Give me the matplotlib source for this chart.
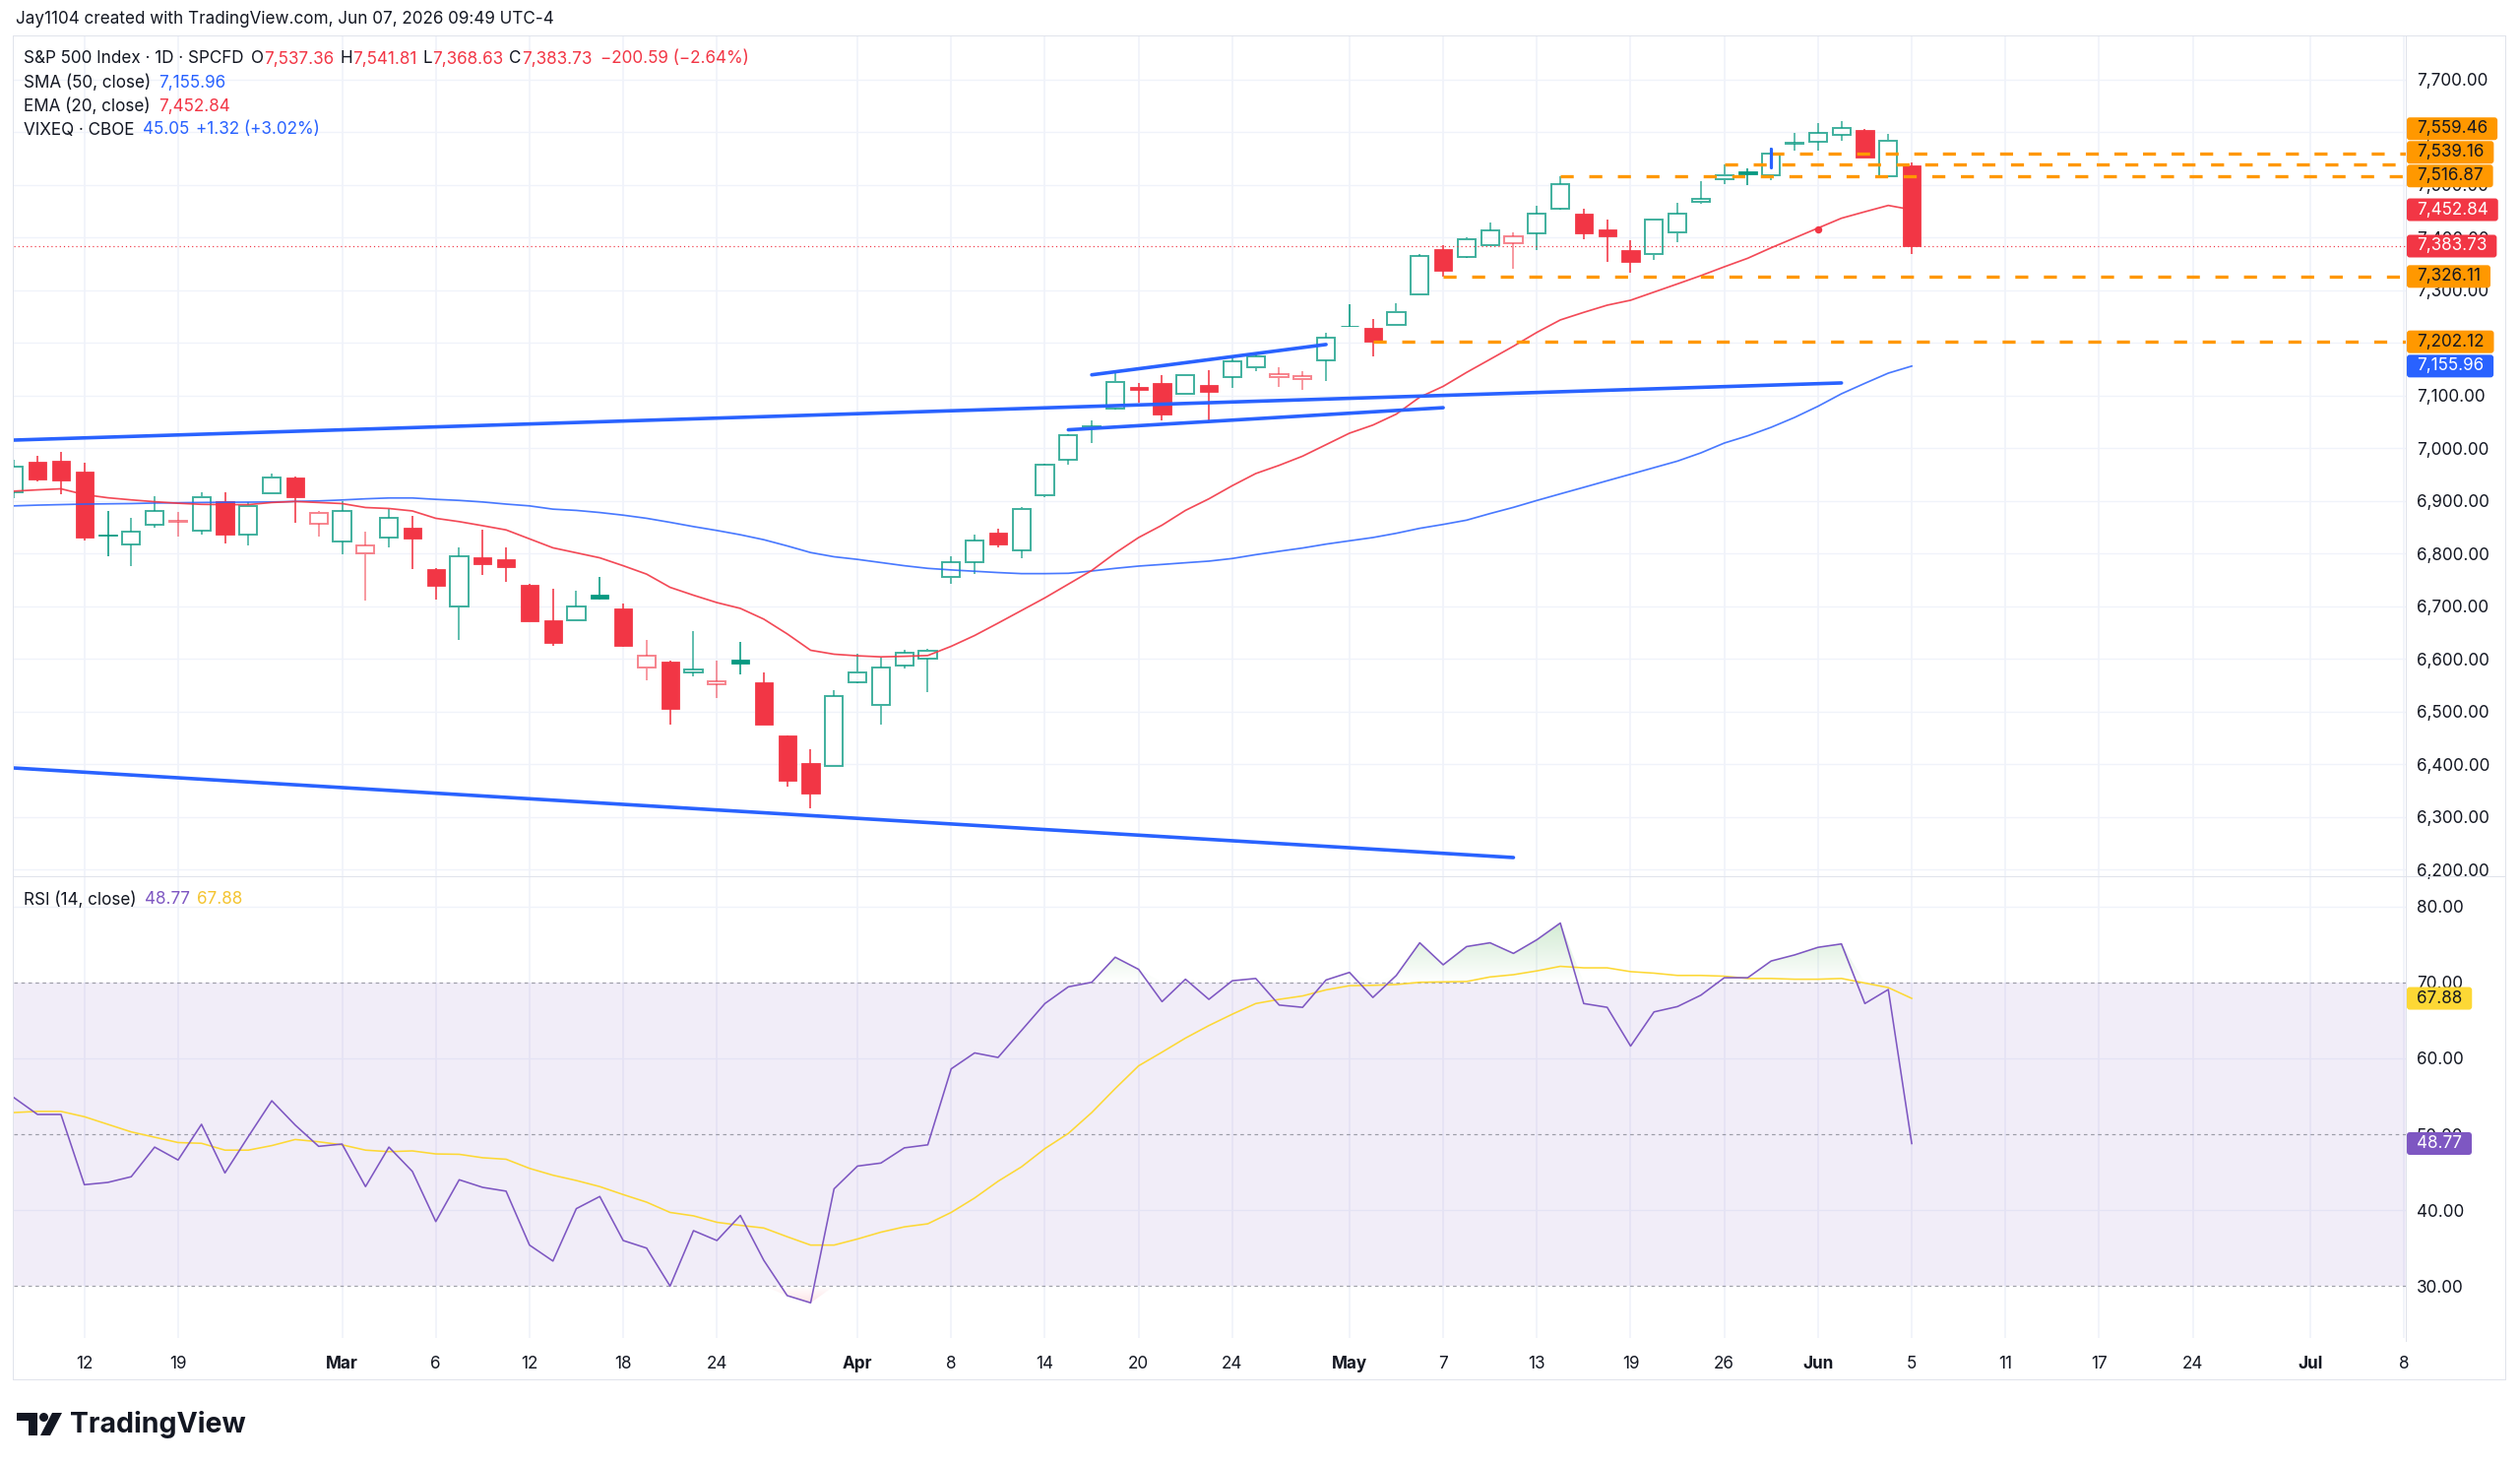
import matplotlib
matplotlib.use('Agg')
import matplotlib.pyplot as plt
from matplotlib.patches import Rectangle, FancyBboxPatch, Polygon, Circle
from matplotlib.lines import Line2D
from matplotlib.path import Path
from matplotlib.transforms import IdentityTransform
from matplotlib.colors import to_rgb
import numpy as np
import pandas as pd

plt.rcParams['font.family'] = ['Inter', 'DejaVu Sans']

# ---------------------------------------------------------------- data
holidays = ['2026-02-16', '2026-04-03', '2026-05-25', '2026-06-19', '2026-07-03']
first_day, last_day = '2026-02-09', '2026-07-10'

opens = [6917, 6975, 6976.6, 6956, 6836, 6818, 6855, 6861, 6844, 6900,
         6837, 6914, 6945, 6857, 6823, 6800, 6831, 6850, 6770, 6699,
         6793, 6790, 6741, 6673, 6674, 6722, 6696, 6583, 6595, 6575,
         6552, 6598, 6555, 6454, 6403, 6396, 6556, 6512, 6588, 6601,
         6755, 6784, 6840, 6806, 6910, 6979, 7038, 7075, 7116, 7123,
         7103, 7120, 7136, 7153, 7134.5, 7130.8, 7167.6, 7233, 7229, 7234,
         7293, 7377.5, 7363, 7385, 7390, 7408.7, 7454.2, 7444.8, 7414.9, 7375.6,
         7368.2, 7409.3, 7467.2, 7510.2, 7525.8, 7518.9, 7578, 7581.9, 7595.6, 7604.9,
         7515.8, 7537.36]
highs = [6978, 6986, 6993, 6973, 6881, 6867, 6909, 6879, 6916, 6917,
         6898, 6952, 6947, 6881, 6900, 6841, 6884, 6871, 6772, 6811,
         6846, 6811, 6742, 6733, 6730, 6755, 6705, 6636, 6596, 6652,
         6596, 6633, 6574, 6455, 6428, 6540, 6610, 6602, 6618, 6619,
         6795, 6837, 6847, 6889, 6971, 7027, 7052, 7147, 7123, 7139,
         7139, 7148, 7171, 7180, 7153, 7146, 7219, 7273, 7245, 7275,
         7368, 7385, 7401, 7428.6, 7410.6, 7460.4, 7516.87, 7454.8, 7433.6, 7395,
         7434.8, 7466, 7506.5, 7539.16, 7532, 7570.6, 7598.7, 7617.4, 7620.5, 7605.5,
         7597.4, 7541.81]
lows = [6906, 6937, 6912, 6825, 6795, 6777, 6849, 6833, 6836, 6820,
        6816, 6914, 6859, 6833, 6798, 6710, 6811, 6771, 6712, 6637,
        6760, 6746, 6671, 6625, 6673, 6712, 6623, 6559, 6475, 6567,
        6526, 6570, 6475, 6358, 6317, 6395, 6554, 6476, 6581, 6537,
        6742, 6762, 6811, 6791, 6907, 6968, 7010, 7074, 7086, 7052,
        7103, 7049, 7114, 7147, 7116, 7110, 7127, 7231, 7175, 7234,
        7293, 7326.11, 7362, 7384, 7340, 7376.3, 7454, 7397.5, 7354.5, 7333.9,
        7357.6, 7391.2, 7463.5, 7502.1, 7500.3, 7508.4, 7564.4, 7564.4, 7584.4, 7551,
        7515, 7368.63]
closes = [6965, 6940.5, 6939, 6831, 6834, 6842, 6880, 6862, 6908, 6837,
          6891, 6945, 6908, 6878, 6881, 6815, 6868, 6829, 6739, 6795,
          6780, 6775, 6672.5, 6631, 6699, 6715.5, 6624.5, 6606, 6506, 6580,
          6557, 6592, 6476, 6369, 6344, 6529, 6575, 6583, 6611, 6616,
          6783, 6824, 6818, 6885.5, 6968, 7024, 7042, 7126.5, 7110, 7065,
          7138, 7108, 7164.5, 7174.4, 7140.8, 7136.4, 7209.3, 7231.5, 7202.12, 7259,
          7365, 7337, 7397.5, 7413, 7401.8, 7444.8, 7500.9, 7408, 7403, 7353.2,
          7433.6, 7444.8, 7472.8, 7518.9, 7519.5, 7559.46, 7580, 7598.7, 7608, 7552,
          7584.32, 7383.73]

ema20 = [6918.6, 6921, 6923, 6912, 6906, 6902, 6898.5, 6895.6, 6893.5, 6893,
         6893, 6897, 6899, 6897, 6895, 6887.5, 6885.6, 6881, 6867, 6860.7,
         6853, 6845, 6828, 6811, 6801.5, 6792, 6777, 6761, 6736, 6721,
         6707, 6696, 6675.6, 6647.6, 6616.5, 6609, 6606, 6604, 6605, 6606.5,
         6624, 6644.5, 6668, 6692, 6716, 6742, 6768, 6801, 6830.5, 6854,
         6882, 6904, 6929, 6952, 6967.6, 6985, 7006.8, 7028.6, 7044, 7064.8,
         7097, 7117.5, 7144, 7168.8, 7193.7, 7220, 7243.6, 7258, 7271.6, 7281,
         7296.5, 7312, 7327.7, 7344.5, 7360.7, 7380.6, 7399.3, 7418, 7436.7, 7449,
         7461, 7452.84]
sma50 = [6890.6, 6892, 6893, 6894, 6894.5, 6895, 6896, 6896.5, 6897, 6897.5,
         6897.7, 6898, 6899, 6900, 6901.8, 6904, 6905.6, 6905.6, 6903, 6901,
         6898, 6894, 6890.6, 6884.4, 6882, 6878, 6873, 6867, 6859.4, 6851.3,
         6843.9, 6835.8, 6826.4, 6814.6, 6802, 6794, 6789, 6783, 6777, 6772,
         6769, 6766.5, 6764, 6762, 6762, 6762.6, 6767, 6772, 6776.3, 6779.4,
         6782.6, 6785.7, 6790.7, 6798, 6804.4, 6810.6, 6818, 6824.3, 6830.5, 6838.6,
         6848, 6855.4, 6863.5, 6876, 6887.8, 6900.9, 6913.4, 6925.8, 6938.3, 6950.7,
         6963.2, 6975.6, 6991.2, 7009.9, 7023.6, 7039.8, 7058.5, 7079.7, 7103.4, 7123.3,
         7142.6, 7155.96]

rsi = [54.8, 52.6, 52.6, 43.35, 43.65, 44.4, 48.3, 46.6, 51.3, 44.9,
       49.7, 54.4, 51.2, 48.4, 48.7, 43.1, 48.3, 45.1, 38.5, 44.0,
       43.0, 42.5, 35.4, 33.3, 40.2, 41.8, 36.0, 35.0, 30.0, 37.3,
       36.0, 39.3, 33.4, 28.75, 27.8, 42.8, 45.8, 46.2, 48.2, 48.6,
       58.6, 60.7, 60.1, 63.65, 67.2, 69.4, 70.0, 73.3, 71.7, 67.45,
       70.4, 67.75, 70.2, 70.5, 67.0, 66.7, 70.3, 71.3, 68.0, 70.9,
       75.2, 72.3, 74.7, 75.2, 73.8, 75.6, 77.8, 67.2, 66.7, 61.6,
       66.1, 66.8, 68.3, 70.6, 70.6, 72.8, 73.6, 74.6, 75.05, 67.2,
       69.05, 48.77]
rsi_ma = [52.85, 53.0, 53.0, 52.3, 51.3, 50.3, 49.6, 48.9, 48.8, 47.9,
          47.9, 48.5, 49.3, 49.0, 48.6, 47.9, 47.7, 47.8, 47.4, 47.35,
          46.9, 46.7, 45.5, 44.6, 43.9, 43.1, 42.05, 41.05, 39.7, 39.25,
          38.4, 38.0, 37.65, 36.5, 35.4, 35.4, 36.2, 37.1, 37.8, 38.2,
          39.7, 41.6, 43.8, 45.7, 48.1, 50.1, 52.85, 56.0, 59.0, 60.8,
          62.65, 64.3, 65.8, 67.2, 67.75, 68.2, 69.0, 69.55, 69.6, 69.7,
          70.0, 70.05, 70.1, 70.7, 71.0, 71.5, 72.1, 71.9, 71.9, 71.4,
          71.2, 70.9, 70.9, 70.8, 70.5, 70.5, 70.4, 70.4, 70.5, 69.9,
          69.3, 67.88]

# drawn trend lines: (start bar, start price, end bar, end price)
trend_long_up = [0, 7015.5, 78, 7124.0]
channel_upper = [46, 7139.4, 56, 7197.0]
channel_lower = [45, 7035.0, 61, 7077.0]
trend_long_down = [0, 6393.0, 64, 6223.0]
level_prices = [7559.46, 7539.16, 7516.87, 7326.11, 7202.12]
level_start_bar = [75, 73, 66, 61, 58]
marker_bar, marker_low, marker_high = 75, 7534, 7569
dot_bar, dot_price = 77, 7415

tick_dates = ['2026-02-12', '2026-02-19', '2026-03-02', '2026-03-06', '2026-03-12', '2026-03-18',
              '2026-03-24', '2026-04-01', '2026-04-08', '2026-04-14', '2026-04-20', '2026-04-24',
              '2026-05-01', '2026-05-07', '2026-05-13', '2026-05-19', '2026-05-26', '2026-06-01',
              '2026-06-05', '2026-06-11', '2026-06-17', '2026-06-24', '2026-07-01', '2026-07-08']
tick_labels = ['12', '19', 'Mar', '6', '12', '18', '24', 'Apr', '8', '14', '20', '24',
               'May', '7', '13', '19', '26', 'Jun', '5', '11', '17', '24', 'Jul', '8']
month_labels = ['Mar', 'Apr', 'May', 'Jun', 'Jul']

price_ticks = [6200, 6300, 6400, 6500, 6600, 6700, 6800, 6900, 7000, 7100, 7200, 7300, 7400, 7500, 7600, 7700]
rsi_ticks = [30, 40, 50, 60, 70, 80]

# ---------------------------------------------------------------- style
W, H, DPI = 2560, 1487, 100
UP, DN = '#089981', '#f23645'
BLUE, ORANGE, PURPLE, YELLOW = '#2962ff', '#ff9800', '#7e57c2', '#fdd835'
TXT = '#131722'
GRID = '#f0f3fa'
BORDER = '#e0e3eb'
FS = 12.3
PX = 72.0 / DPI  # points per pixel

L_PX, R_PX = 14, 2444
MAIN_TOP, SPLIT, RSI_BOT, FRAME_BOT = 36, 890, 1359, 1401

trading_days = [d.strftime('%Y-%m-%d') for d in pd.bdate_range(first_day, last_day)
                if d.strftime('%Y-%m-%d') not in holidays]
n = len(closes)
x = np.arange(n)
tick_idx = [trading_days.index(d) for d in tick_dates]

fig = plt.figure(figsize=(W / DPI, H / DPI), dpi=DPI)
fig.patch.set_facecolor('white')
ax = fig.add_axes([L_PX / W, 1 - SPLIT / H, (R_PX - L_PX) / W, (SPLIT - MAIN_TOP) / H])
axr = fig.add_axes([L_PX / W, 1 - RSI_BOT / H, (R_PX - L_PX) / W, (RSI_BOT - SPLIT) / H])

XL = (-0.013, 102.09)
for a in (ax, axr):
    a.set_xlim(*XL)
    a.set_facecolor('none')
    for s in a.spines.values():
        s.set_visible(False)
    a.set_xticks([])
    a.yaxis.tick_right()
    a.tick_params(axis='y', length=0, pad=11 * PX, labelsize=FS, labelcolor=TXT)
    for t in tick_idx:
        a.axvline(t, color=GRID, lw=1.2 * PX * 1.4, zorder=0)

ax.set_ylim(6187.5, 7783.7)
axr.set_ylim(23.17, 83.96)
ax.set_yticks(price_ticks)
ax.set_yticklabels([f'{v:,.2f}' for v in price_ticks])
axr.set_yticks(rsi_ticks)
axr.set_yticklabels([f'{v:.2f}' for v in rsi_ticks])
for v in price_ticks:
    ax.axhline(v, color=GRID, lw=1.4 * PX, zorder=0)
for v in (40, 60, 80):
    axr.axhline(v, color=GRID, lw=1.4 * PX, zorder=0)

# ---------------------------------------------------------------- candles
bw = 0.77
lw_c = 1.6 * PX
for i in range(n):
    o, hi, lo, c = opens[i], highs[i], lows[i], closes[i]
    prev = closes[i - 1] if i > 0 else o
    col = UP if c >= prev else DN
    hollow = c >= o
    top, bot = max(o, c), min(o, c)
    hgt = max(top - bot, 1.2)
    if hollow:
        al = 0.78 if col == UP else 0.62
        ax.add_patch(Rectangle((i - bw / 2, bot), bw, hgt, facecolor='none', edgecolor=col,
                               lw=lw_c * 1.2, alpha=al, zorder=2))
        if hi > top:
            ax.plot([i, i], [top + 0.6, hi], color=col, lw=lw_c, alpha=al, zorder=2, solid_capstyle='butt')
        if lo < bot:
            ax.plot([i, i], [lo, bot - 0.6], color=col, lw=lw_c, alpha=al, zorder=2, solid_capstyle='butt')
    else:
        ax.plot([i, i], [lo, hi], color=col, lw=lw_c, zorder=2, solid_capstyle='butt')
        ax.add_patch(Rectangle((i - bw / 2, bot), bw, hgt, facecolor=col, edgecolor=col,
                               lw=0.8 * PX, zorder=2.1))

# ---------------------------------------------------------------- indicator lines
ax.plot(x, sma50, color=BLUE, lw=1.7 * PX, alpha=0.85, zorder=3)
ax.plot(x, ema20, color=DN, lw=1.7 * PX, alpha=0.9, zorder=3)
ax.plot([dot_bar], [dot_price], 'o', color=DN, ms=6 * PX, zorder=3.5)

# last price dotted line
ax.axhline(closes[-1], color=DN, lw=1.2 * PX, linestyle=(0, (1, 2.5)), zorder=2.5)

# horizontal levels
for p, s in zip(level_prices, level_start_bar):
    ax.plot([s, XL[1]], [p, p], color=ORANGE, lw=3.3 * PX, dashes=(4, 4.8),
            solid_capstyle='butt', dash_capstyle='butt', zorder=4)

# trend lines
for tl in (trend_long_up, channel_upper, channel_lower, trend_long_down):
    ax.plot([tl[0], tl[2]], [tl[1], tl[3]], color=BLUE, lw=3.6 * PX,
            solid_capstyle='round', zorder=4.5)
ax.plot([marker_bar, marker_bar], [marker_low, marker_high], color=BLUE, lw=3.2 * PX,
        solid_capstyle='round', zorder=4.6)

# ---------------------------------------------------------------- RSI pane
axr.axhspan(30, 70, color=PURPLE, alpha=0.1, lw=0, zorder=0.5)
for v in (30, 50, 70):
    axr.axhline(v, color='#787b86', lw=1.2 * PX, linestyle=(0, (3, 3)), alpha=0.7, zorder=1)

rsi_a = np.array(rsi)


def gradient_fill(axis, base, far, yvals, color, amax):
    if far > base:
        coll = axis.fill_between(x, base, np.maximum(yvals, base), facecolor='none',
                                 edgecolor='none', interpolate=True)
    else:
        coll = axis.fill_between(x, np.minimum(yvals, base), base, facecolor='none',
                                 edgecolor='none', interpolate=True)
    paths = coll.get_paths()
    if not paths:
        return
    comp = Path.make_compound_path(*paths)
    r, g, b = to_rgb(color)
    img = np.zeros((256, 1, 4))
    img[..., 0], img[..., 1], img[..., 2] = r, g, b
    img[:, 0, 3] = np.linspace(0, amax, 256)
    lo_, hi_ = (base, far) if far > base else (far, base)
    if far < base:
        img = img[::-1]
    im = axis.imshow(img, extent=[XL[0], XL[1], lo_, hi_], origin='lower', aspect='auto',
                     zorder=1.5, interpolation='bilinear')
    im.set_clip_path(comp, transform=axis.transData)


gradient_fill(axr, 70, 80, rsi_a, '#4caf50', 0.32)
gradient_fill(axr, 30, 26, rsi_a, '#f23645', 0.25)
axr.set_xlim(*XL)
axr.set_ylim(23.17, 83.96)

axr.plot(x, rsi_ma, color=YELLOW, lw=1.6 * PX, zorder=3)
axr.plot(x, rsi, color=PURPLE, lw=1.6 * PX, zorder=4)

# ---------------------------------------------------------------- frame lines
ident = IdentityTransform()


def hline_px(y_top, x0, x1, color=BORDER, lw=1.0):
    fig.add_artist(Line2D([x0, x1], [H - y_top, H - y_top], color=color, lw=lw * PX, transform=ident))


def vline_px(x_px, y0, y1, color=BORDER, lw=1.0):
    fig.add_artist(Line2D([x_px, x_px], [H - y0, H - y1], color=color, lw=lw * PX, transform=ident))


hline_px(MAIN_TOP, 13, 2545)
hline_px(SPLIT, 13, 2545)
hline_px(FRAME_BOT, 13, 2545)
vline_px(13, MAIN_TOP, FRAME_BOT)
vline_px(2545, MAIN_TOP, FRAME_BOT)
vline_px(R_PX, MAIN_TOP, RSI_BOT + 3)

renderer = fig.canvas.get_renderer()


def text_run(x_px, y_top, parts, size=FS):
    for s, col, gap in parts:
        t = fig.text(x_px, H - y_top, s, color=col, fontsize=size, ha='left', va='center',
                     transform=ident)
        x_px += t.get_window_extent(renderer).width + gap


# title and legends
text_run(16, 20, [('Jay1104 created with TradingView.com, Jun 07, 2026 09:49 UTC-4', TXT, 0)])
text_run(24, 60, [('S&P 500 Index · 1D · SPCFD', TXT, 8), ('O', TXT, 0), ('7,537.36', DN, 6),
                  ('H', TXT, 0), ('7,541.81', DN, 6), ('L', TXT, 0), ('7,368.63', DN, 6),
                  ('C', TXT, 0), ('7,383.73', DN, 9), ('−200.59 (−2.64%)', DN, 0)])
text_run(24, 84, [('SMA (50, close)', TXT, 8), ('7,155.96', BLUE, 0)])
text_run(24, 108, [('EMA (20, close)', TXT, 8), ('7,452.84', DN, 0)])
text_run(24, 132, [('VIXEQ · CBOE', TXT, 8), ('45.05', BLUE, 7), ('+1.32 (+3.02%)', BLUE, 0)])
text_run(24, 914, [('RSI (14, close)', TXT, 8), ('48.77', PURPLE, 7), ('67.88', '#f4c430', 0)])

# x-axis labels
for idx, lab in zip(tick_idx, tick_labels):
    xp = ax.transData.transform((idx, 0))[0]
    fig.text(xp, H - 1385, lab, ha='center', va='center', fontsize=FS, color=TXT,
             fontweight='bold' if lab in month_labels else 'normal', transform=ident)

# price-scale labels with overlap avoidance
BOX_H = 24.0


def scale_labels(axis, items, fmt):
    ys = []
    for val, bg, fg in items:
        ys.append(axis.transData.transform((0, val))[1])
    order = np.argsort([it[0] for it in items])
    placed = {}
    last = -1e9
    for k in order:
        y = max(ys[k], last + BOX_H)
        placed[k] = y
        last = y
    for k, (val, bg, fg) in enumerate(items):
        y = placed[k]
        t = fig.text(R_PX + 11, y, fmt(val), ha='left', va='center', fontsize=FS, color=fg,
                     transform=ident, zorder=6)
        w = t.get_window_extent(renderer).width
        fig.add_artist(FancyBboxPatch((R_PX + 1, y - BOX_H / 2 + 0.5), w + 20, BOX_H - 1,
                                      boxstyle='round,pad=0,rounding_size=3', facecolor=bg,
                                      edgecolor='none', transform=ident, zorder=5))


scale_labels(ax, [(7559.46, ORANGE, TXT), (7539.16, ORANGE, TXT), (7516.87, ORANGE, TXT),
                  (7452.84, DN, 'white'), (7383.73, DN, 'white'), (7326.11, ORANGE, TXT),
                  (7202.12, ORANGE, TXT), (7155.96, BLUE, 'white')], lambda v: f'{v:,.2f}')
scale_labels(axr, [(67.88, YELLOW, TXT), (48.77, PURPLE, 'white')], lambda v: f'{v:.2f}')

# ---------------------------------------------------------------- TradingView logo
LOGO = TXT
LOGO_DY = 2


def poly_px(pts):
    fig.add_artist(Polygon([(px_, H - py_ - LOGO_DY) for px_, py_ in pts], closed=True,
                           facecolor=LOGO, edgecolor='none', transform=ident))


poly_px([(17, 1433), (38, 1433), (38, 1441), (17, 1441)])
poly_px([(29, 1433), (38, 1433), (38, 1456), (29, 1456)])
fig.add_artist(Circle((44.5, H - 1437.5 - LOGO_DY), 4.5, facecolor=LOGO, edgecolor='none',
                      transform=ident))
poly_px([(41, 1456), (51, 1456), (63, 1433), (53, 1433)])
fig.text(71, H - 1445 - LOGO_DY, 'TradingView', ha='left', va='center', fontsize=20.5,
         fontweight='bold', color=LOGO, transform=ident)

fig.savefig('out.png', dpi=DPI, facecolor='white')
